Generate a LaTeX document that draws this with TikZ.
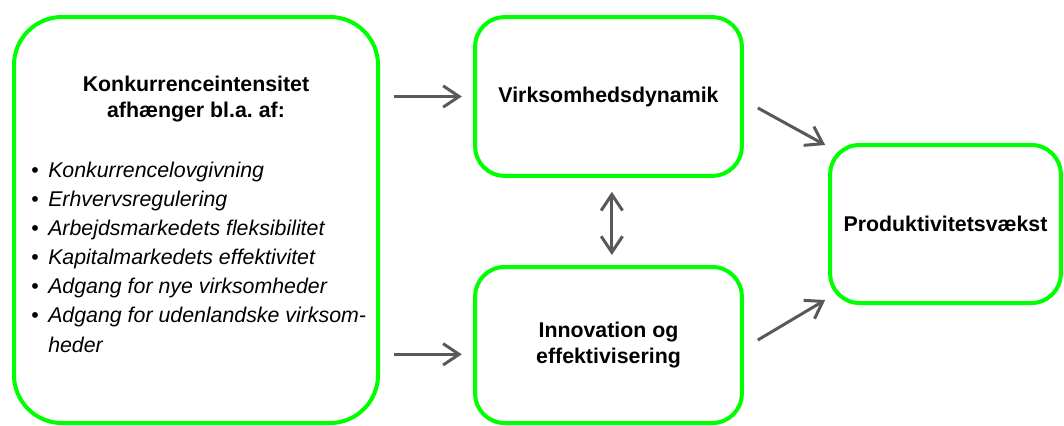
\documentclass[tikz,border=0pt]{standalone}
\usepackage{fontspec}
\setmainfont{Liberation Sans}
\frenchspacing
\usetikzlibrary{arrows.meta}
\definecolor{boxgreen}{RGB}{0,255,0}
\definecolor{arrowgrey}{RGB}{89,89,89}
\tikzset{
  box/.style={draw=boxgreen, line width=3pt, outer sep=0pt, rounded corners=22pt, align=center,
    font=\fontsize{16}{19}\selectfont\bfseries},
  arr/.style={draw=arrowgrey, line width=2.25pt, -{Straight Barb[length=12pt,width=16pt]}},
  listitem/.style={anchor=base west, inner sep=0pt, align=left, font=\fontsize{16}{22}\selectfont\itshape},
}
\newcommand{\itembullet}{\makebox[12.75pt][l]{\upshape\textbullet}}

\begin{document}
\begin{tikzpicture}[x=0.75pt, y=-0.75pt]
\useasboundingbox (0,0) rectangle (1064,425);
\node[box, minimum width=273pt, minimum height=304.5pt, rounded corners=36pt] (konk) at (196,220) {};
\node[anchor=base, align=center, inner sep=0pt, font=\fontsize{16}{19}\selectfont\bfseries] (konktitle) at (196,117) {Konkurrenceintensitet\\afhænger bl.a.\ af:};
\foreach \txt/\y [count=\i] in {Konkurrencelovgivning/177, Erhvervsregulering/206, Arbejdsmarkedets fleksibilitet/235, Kapitalmarkedets effektivitet/264, Adgang for nye virksomheder/293, {Adgang for udenlandske virksom-\\\hspace*{12.75pt}heder}/352}
{
  \node[listitem] (item\i) at (31,\y) {\itembullet\txt};
}
\node[box, minimum width=200pt, minimum height=119pt] (vdyn) at (608.5,96.5) {Virksomhedsdynamik};
\node[box, minimum width=200pt, minimum height=117pt] (innov) at (608.5,345) {Innovation og\\effektivisering};
\node[box, minimum width=173pt, minimum height=118.5pt] (prod) at (945.5,224) {Produktivitetsvækst};
\draw[arr, shorten <=12pt, shorten >=10pt] (konk.east |- vdyn.west) -- (vdyn.west);
\draw[arr, shorten <=12pt, shorten >=10pt] ([yshift=-7pt]konk.east |- innov.west) -- ([yshift=-7pt]innov.west);
\draw[arr, {Straight Barb[length=12pt,width=16pt]}-{Straight Barb[length=12pt,width=16pt]}, shorten <=12pt, shorten >=9pt] ([xshift=2.5pt]vdyn.south) -- ([xshift=2.5pt]innov.north);
\draw[arr] ([xshift=12pt,yshift=-8.6pt]vdyn.east) -- ([xshift=-3.75pt]prod.north west);
\draw[arr] ([xshift=12pt,yshift=3.75pt]innov.east) -- ([xshift=-3.75pt,yshift=2.25pt]prod.south west);
\end{tikzpicture}
\end{document}
